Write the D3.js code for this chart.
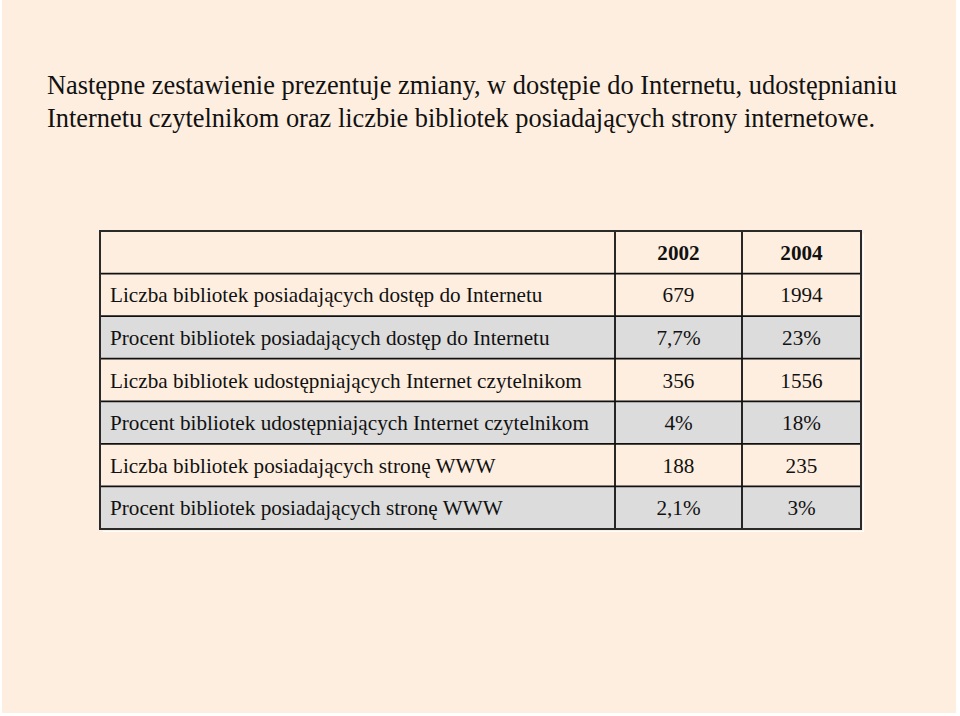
<!DOCTYPE html>
<html>
<head>
<meta charset="utf-8">
<script src="https://cdn.jsdelivr.net/npm/d3@7"></script>
<style>
  html, body { margin: 0; padding: 0; background: #ffffff; }
  svg { display: block; }
</style>
</head>
<body>
<svg id="chart" width="960" height="716"></svg>
<script>
const titleLines = [
  "Następne zestawienie prezentuje zmiany, w dostępie do Internetu, udostępnianiu",
  "Internetu czytelnikom oraz liczbie bibliotek posiadających strony internetowe."
];
const years = ["2002", "2004"];
const rowLabels = [
  "Liczba bibliotek posiadających dostęp do Internetu",
  "Procent bibliotek posiadających dostęp do Internetu",
  "Liczba bibliotek udostępniających Internet czytelnikom",
  "Procent bibliotek udostępniających Internet czytelnikom",
  "Liczba bibliotek posiadających stronę WWW",
  "Procent bibliotek posiadających stronę WWW"
];
const values2002 = ["679", "7,7%", "356", "4%", "188", "2,1%"];
const values2004 = ["1994", "23%", "1556", "18%", "235", "3%"];

const svg = d3.select("#chart");
const W = 960, H = 716;

// page background
svg.append("rect").attr("x", 2).attr("y", 0).attr("width", W - 6).attr("height", H - 3)
  .attr("fill", "#feeedf");

const serif = "'Liberation Serif', 'Times New Roman', serif";

// title
svg.append("g").selectAll("text").data(titleLines).join("text")
  .attr("x", 47)
  .attr("y", (d, i) => 94 + i * 33)
  .attr("font-family", serif)
  .attr("font-size", 26.4)
  .attr("fill", "#111")
  .text(d => d);

// table
const colKeys = ["label", "y2002", "y2004"];
const colEdges = [100, 615, 742, 861];
const x = d3.scaleOrdinal().domain(colKeys).range(colEdges.slice(0, 3));
const colW = k => colEdges[colKeys.indexOf(k) + 1] - colEdges[colKeys.indexOf(k)];

const rowKeys = ["header"].concat(rowLabels);
const y = d3.scaleBand().domain(rowKeys).range([231, 529]).paddingInner(0).paddingOuter(0);

const rows = rowKeys.map((k, i) => ({
  key: k,
  label: i === 0 ? "" : k,
  v1: i === 0 ? years[0] : values2002[i - 1],
  v2: i === 0 ? years[1] : values2004[i - 1],
  header: i === 0,
  shaded: i > 0 && i % 2 === 0
}));

const tbl = svg.append("g");

// row backgrounds
tbl.selectAll("rect.row").data(rows).join("rect")
  .attr("class", "row")
  .attr("x", colEdges[0])
  .attr("y", d => y(d.key))
  .attr("width", colEdges[3] - colEdges[0])
  .attr("height", y.bandwidth())
  .attr("fill", d => d.shaded ? "#dcdcdc" : "#feeedf");

// subtle white shadow at bottom-right
tbl.append("path")
  .attr("d", `M${colEdges[0] + 3},${y.range()[1] + 2.5} H${colEdges[3] + 2.5} V${y.range()[0] + 3}`)
  .attr("fill", "none").attr("stroke", "#ffffff").attr("stroke-width", 1.2);

// horizontal lines
tbl.selectAll("line.h").data(rowKeys.slice(1)).join("line")
  .attr("class", "h")
  .attr("x1", colEdges[0]).attr("x2", colEdges[3])
  .attr("y1", d => y(d)).attr("y2", d => y(d))
  .attr("stroke", "#111").attr("stroke-width", 1.8);

// vertical inner lines
tbl.selectAll("line.v").data(colKeys.slice(1)).join("line")
  .attr("class", "v")
  .attr("x1", d => x(d)).attr("x2", d => x(d))
  .attr("y1", y.range()[0]).attr("y2", y.range()[1])
  .attr("stroke", "#111").attr("stroke-width", 1.8);

// outer border
tbl.append("rect")
  .attr("x", colEdges[0]).attr("y", y.range()[0])
  .attr("width", colEdges[3] - colEdges[0])
  .attr("height", y.range()[1] - y.range()[0])
  .attr("fill", "none").attr("stroke", "#2a2a2a").attr("stroke-width", 2);

const fs = 21.2;
const dy = 7.5;
const cells = tbl.selectAll("g.cells").data(rows).join("g").attr("class", "cells");

cells.append("text")
  .attr("x", colEdges[0] + 10)
  .attr("y", d => y(d.key) + y.bandwidth() / 2 + dy)
  .attr("font-family", serif).attr("font-size", fs).attr("fill", "#111")
  .text(d => d.label);

cells.append("text")
  .attr("x", x("y2002") + colW("y2002") / 2)
  .attr("y", d => y(d.key) + y.bandwidth() / 2 + dy)
  .attr("text-anchor", "middle")
  .attr("font-family", serif).attr("font-size", fs).attr("fill", "#111")
  .attr("font-weight", d => d.header ? "bold" : "normal")
  .text(d => d.v1);

cells.append("text")
  .attr("x", x("y2004") + colW("y2004") / 2)
  .attr("y", d => y(d.key) + y.bandwidth() / 2 + dy)
  .attr("text-anchor", "middle")
  .attr("font-family", serif).attr("font-size", fs).attr("fill", "#111")
  .attr("font-weight", d => d.header ? "bold" : "normal")
  .text(d => d.v2);
</script>
</body>
</html>
